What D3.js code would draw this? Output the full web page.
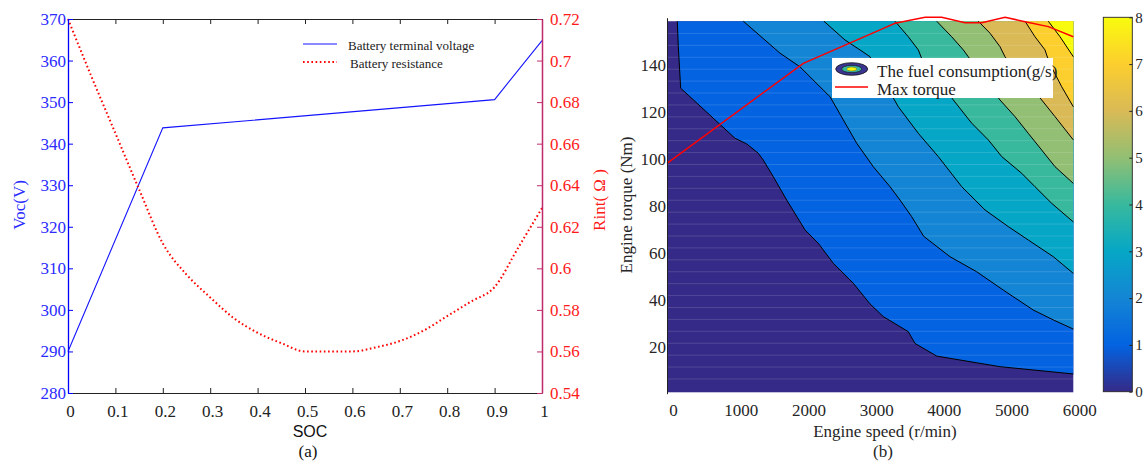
<!DOCTYPE html>
<html><head><meta charset="utf-8">
<script src="https://cdn.jsdelivr.net/npm/d3@7/dist/d3.min.js"></script>
<style>body{margin:0;background:#fff}svg{display:block}text{font-family:"Liberation Serif","Times New Roman",serif}</style>
</head><body><svg id="c" width="1144" height="461"></svg>
<script>
// ---------- (a) battery data ----------
const vocSoc = [0, 0.2, 0.9, 1];
const vocValues = [290, 343.8, 350.6, 364.8];
const rintSoc = [0,0.05,0.1,0.15,0.2,0.25,0.3,0.35,0.4,0.45,0.5,0.55,0.6,0.65,0.7,0.75,0.8,0.85,0.9,0.95,1];
const rintValues = [0.72,0.692,0.665,0.638,0.612,0.597,0.586,0.576,0.569,0.564,0.56,0.56,0.56,0.562,0.565,0.57,0.577,0.584,0.591,0.61,0.629];
const socTicks = [0,0.1,0.2,0.3,0.4,0.5,0.6,0.7,0.8,0.9,1];
const vocTicks = [280,290,300,310,320,330,340,350,360,370];
const rintTicks = [0.54,0.56,0.58,0.6,0.62,0.64,0.66,0.68,0.7,0.72];
const rintTickLabels = ["0.54","0.56","0.58","0.6","0.62","0.64","0.66","0.68","0.7","0.72"];

// ---------- (b) engine map data ----------
const speedTicks = [0,1000,2000,3000,4000,5000,6000];
const torqueTicks = [20,40,60,80,100,120,140];
const colorbarTicks = [0,1,2,3,4,5,6,7,8];
const parula = ["#352a87","#0363e1","#1485d4","#06a7c6","#38b99e","#92bf73","#d9ba56","#fcce2e","#f9fb0e"];
const maxTorqueSpeed = [0, 2013, 3146, 3368, 3811, 4057, 4401, 4648, 4992, 5288, 5632, 6000];
const maxTorqueValue = [98, 140.6, 154.8, 157.6, 160.2, 160.2, 157.9, 157.9, 160.2, 158.3, 156.2, 151.9];
const fuelLevel1 = [[152,158.5],[167,147.7],[202,130],[1004,108.7],[1177,106.3],[1348,102.3],[1422,99.4],[1570,92.3],[1768,82.4],[2038,69.7],[2234,64],[2456,55.5],[2751,47],[2998,38.2],[3194,32.8],[3563,26.4],[3662,21.4],[3983,16],[4917,11.5],[6000,8.4]];
const fuelLevel2 = [[1127,158.5],[1669,144.9],[1964,139.1],[2308,129.2],[2407,126.4],[2604,116.5],[2801,106.6],[3046,96.6],[3293,88.1],[3441,82.4],[3614,75.3],[3790,67],[4179,58.3],[4573,51.9],[4966,44.1],[5409,35.6],[5705,31.4],[6000,27.5]];
const fuelLevel3 = [[2318,158.5],[2629,150.5],[2850,146.3],[2998,143.4],[3200,133],[3416,122.1],[3711,110.8],[4006,100.9],[4352,88.1],[4696,78.2],[5040,71.1],[5335,65.4],[5705,58.3],[6000,51.2]];
const fuelLevel4 = [[3367,158.5],[3563,151.9],[3711,146.3],[3761,142.7],[4000,133.5],[4228,125],[4500,115.1],[4745,108],[4943,100.9],[5238,93.8],[5434,88.1],[5681,81],[6000,73.1]];
const fuelLevel5 = [[3983,158.5],[4204,151.9],[4376,146.3],[4449,143.4],[4690,134],[4917,125],[5139,117.9],[5335,110.8],[5533,103.7],[5730,96.6],[6000,89.5]];
const fuelLevel6 = [[4597,158.5],[4770,153.4],[4917,147.7],[4991,143.4],[5260,134],[5533,125],[5730,117.9],[6000,108]];
const fuelLevel7 = [[5287,158.5],[5434,151.9],[5582,146.3],[5612,143.7],[5685,138.6],[5829,130.6],[6000,122.1]];
const fuelLevel8 = [[5631,158.5],[5804,151.9],[6000,143.4]];
const fuelLines = [fuelLevel1,fuelLevel2,fuelLevel3,fuelLevel4,fuelLevel5,fuelLevel6,fuelLevel7,fuelLevel8];

const svg = d3.select("#c");

// ================= (a) =================
const xA = d3.scaleLinear([0,1],[68,542]);
const yV = d3.scaleLinear([280,370],[393,19]);
const yR = d3.scaleLinear([0.54,0.72],[393,19]);
const blue = "#2b2bff", red = "#ff1a1a", axisMag = "#c02a6c";

svg.append("path")
  .attr("d", d3.line().x((d,i)=>xA(vocSoc[i])).y(d=>yV(d))(vocValues))
  .attr("fill","none").attr("stroke","#1414ff").attr("stroke-width",1.1);
svg.append("path")
  .attr("d", d3.line().x((d,i)=>xA(rintSoc[i])).y(d=>yR(d)).curve(d3.curveMonotoneX)(rintValues))
  .attr("fill","none").attr("stroke","#ff0000").attr("stroke-width",2).attr("stroke-dasharray","1.6,2.6");

function styleAxis(g, lineColor, textColor, size){
  g.selectAll("path,line").attr("stroke", lineColor);
  g.selectAll("text").attr("fill", textColor).style("font-size", size+"px").style("font-family","'Liberation Serif',serif");
}
// top border
const gTop = svg.append("g").attr("transform","translate(0,19)")
  .call(d3.axisTop(xA).tickValues(socTicks).tickSizeInner(-5).tickSizeOuter(0).tickFormat(""));
styleAxis(gTop,"#222","#222",17);
// bottom
const gBot = svg.append("g").attr("transform","translate(0,393)")
  .call(d3.axisBottom(xA).tickValues(socTicks).tickSizeInner(-5).tickSizeOuter(0).tickPadding(12).tickFormat(d3.format("~g")));
styleAxis(gBot,"#222","#222",17);
gBot.selectAll("text").attr("x",2);
// left
const gL = svg.append("g").attr("transform","translate(68,0)")
  .call(d3.axisLeft(yV).tickValues(vocTicks).tickSizeInner(-5).tickSizeOuter(0).tickPadding(2));
styleAxis(gL, "#0000ff", blue, 17);
gL.select(".domain").attr("stroke-width",1.3);
// right
const gR = svg.append("g").attr("transform","translate(542,0)")
  .call(d3.axisRight(yR).tickValues(rintTicks).tickSizeInner(-5).tickSizeOuter(0).tickPadding(8).tickFormat((d,i)=>rintTickLabels[i]));
styleAxis(gR, axisMag, red, 17);
gR.select(".domain").attr("stroke-width",1.5);

// axis titles
svg.append("text").attr("transform","translate(25,205) rotate(-90)").attr("text-anchor","middle")
  .attr("fill",blue).style("font-size","17px").text("Voc(V)");
svg.append("text").attr("transform","translate(605,200) rotate(-90)").attr("text-anchor","middle")
  .attr("fill",red).style("font-size","17px").text("Rint( Ω )");
svg.append("text").attr("x",310).attr("y",437).attr("text-anchor","middle").attr("fill","#111")
  .style("font-family","'Liberation Sans',Arial,sans-serif").style("font-size","16px").text("SOC");
svg.append("text").attr("x",308).attr("y",457).attr("text-anchor","middle").attr("fill","#111")
  .style("font-size","17px").text("(a)");

// legend (a)
svg.append("line").attr("x1",303).attr("x2",337).attr("y1",44).attr("y2",44).attr("stroke","#1414ff").attr("stroke-width",1.1);
svg.append("text").attr("x",348).attr("y",50).attr("fill","#222").style("font-size","13px").text("Battery terminal voltage");
svg.append("line").attr("x1",303).attr("x2",337).attr("y1",62).attr("y2",62).attr("stroke","#ff0000").attr("stroke-width",2).attr("stroke-dasharray","1.6,2.6");
svg.append("text").attr("x",350).attr("y",68).attr("fill","#222").style("font-size","13px").text("Battery resistance");

// ================= (b) =================
const xS = d3.scaleLinear([0,6000],[667,1073.3]);
const yS = d3.scaleLinear([0,160],[393.7,17.7]);
const cTop = 158.5, cBottom = 0.6;
const mapG = svg.append("g");
mapG.append("rect").attr("x",xS(0)).attr("y",yS(cTop)).attr("width",xS(6000)-xS(0)).attr("height",yS(cBottom)-yS(cTop)).attr("fill",parula[0]);
const lineGen = d3.line().x(d=>xS(d[0])).y(d=>yS(d[1]));
fuelLines.forEach((pts,i)=>{
  mapG.append("path").attr("d", lineGen(pts.concat([[6000,cTop]]))+"Z").attr("fill",parula[i+1]);
});
// faint rendering texture rows
const textureRows = d3.range(1,31).map(i=>1.2+i*5.07);
mapG.selectAll("line.row").data(textureRows).join("line").attr("class","row")
  .attr("x1",xS(0)).attr("x2",xS(6000)).attr("y1",d=>yS(d)).attr("y2",d=>yS(d))
  .attr("stroke","#fff").attr("stroke-opacity",0.14).attr("stroke-width",1);
fuelLines.forEach(pts=>{
  mapG.append("path").attr("d", lineGen(pts)).attr("fill","none").attr("stroke","#000").attr("stroke-width",1);
});
// max torque
svg.append("path").attr("d", d3.line().x((d,i)=>xS(maxTorqueSpeed[i])).y(d=>yS(d))(maxTorqueValue))
  .attr("fill","none").attr("stroke","#ff0000").attr("stroke-width",1.5);

// axes (b)
const gYb = svg.append("g").attr("transform",`translate(${xS(0)},0)`)
  .call(d3.axisLeft(yS).tickValues(torqueTicks).tickSize(0).tickPadding(1));
styleAxis(gYb,"#222","#262626",17);
const gXb = svg.append("g").attr("transform","translate(0,392.3)")
  .call(d3.axisBottom(xS).tickValues(speedTicks).tickSize(0).tickPadding(11.5).tickFormat(d3.format("d")));
styleAxis(gXb,"none","#262626",17);
gXb.select(".domain").remove();
gXb.selectAll("text").attr("x",6);
svg.append("text").attr("transform","translate(632,205) rotate(-90)").attr("text-anchor","middle")
  .attr("fill","#262626").style("font-size","17px").text("Engine torque (Nm)");
svg.append("text").attr("x",885).attr("y",437).attr("text-anchor","middle").attr("fill","#262626")
  .style("font-size","17px").text("Engine speed (r/min)");
svg.append("text").attr("x",883).attr("y",457).attr("text-anchor","middle").attr("fill","#262626")
  .style("font-size","17px").text("(b)");

// legend (b)
svg.append("rect").attr("x",832).attr("y",58).attr("width",221).attr("height",40).attr("fill","#fff");
svg.append("ellipse").attr("cx",851.7).attr("cy",69).attr("rx",16).attr("ry",6.3).attr("fill","#3a3592").attr("stroke","#111").attr("stroke-width",0.8);
svg.append("ellipse").attr("cx",851.7).attr("cy",69).attr("rx",10).attr("ry",3.6).attr("fill","#38b99e").attr("stroke","#111").attr("stroke-width",0.6);
svg.append("ellipse").attr("cx",851.7).attr("cy",69).attr("rx",5).attr("ry",2).attr("fill","#f5f50a").attr("stroke","#333").attr("stroke-width",0.4);
svg.append("text").attr("x",877).attr("y",77).attr("fill","#222").style("font-size","17px").text("The fuel consumption(g/s)");
svg.append("line").attr("x1",835).attr("x2",868).attr("y1",87).attr("y2",87).attr("stroke","#ff0000").attr("stroke-width",1.5);
svg.append("text").attr("x",877).attr("y",95).attr("fill","#222").style("font-size","17px").text("Max torque");

// colorbar
const cS = d3.scaleLinear([0,8],[391.7,17.3]);
const grad = svg.append("defs").append("linearGradient").attr("id","parula").attr("x1",0).attr("x2",0).attr("y1",1).attr("y2",0);
parula.forEach((c,i)=>grad.append("stop").attr("offset",(i/(parula.length-1))).attr("stop-color",c));
svg.append("rect").attr("x",1103.3).attr("y",cS(8)).attr("width",29).attr("height",cS(0)-cS(8))
  .attr("fill","url(#parula)").attr("stroke","#262626").attr("stroke-width",0.9);
const gC = svg.append("g").attr("transform","translate(1132.3,0)")
  .call(d3.axisRight(cS).tickValues(colorbarTicks).tickSizeInner(-3).tickSizeOuter(0).tickPadding(3));
gC.select(".domain").remove();
styleAxis(gC,"#262626","#262626",15);
</script></body></html>
